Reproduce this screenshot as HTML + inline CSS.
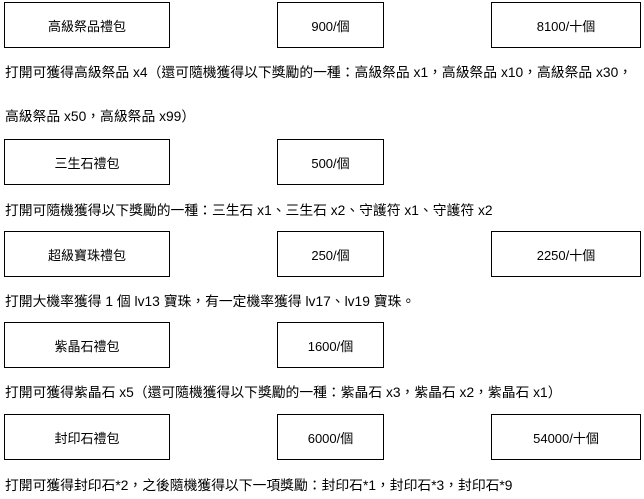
<!DOCTYPE html>
<html><head><meta charset="utf-8"><style>
body{margin:0;width:644px;height:499px;background:#fff;position:relative;font-family:"Liberation Sans","Noto Sans CJK TC",sans-serif;font-size:13px;color:#000;overflow:hidden}
.b{position:absolute;border:1px solid #000;box-sizing:border-box;display:flex;align-items:center;justify-content:center;height:46px}
.c1{left:4px;width:166px}.c2{left:277px;width:107px}.c3{left:491px;width:150px}
.t{position:absolute;left:5px;white-space:nowrap;line-height:16px;font-size:13.8px}
</style></head><body>
<div class="b c1" style="top:2px">高級祭品禮包</div>
<div class="b c2" style="top:2px">900/個</div>
<div class="b c3" style="top:2px">8100/十個</div>
<div class="t" style="top:65px">打開可獲得高級祭品 x4（還可隨機獲得以下獎勵的一種：高級祭品 x1，高級祭品 x10，高級祭品 x30，</div>
<div class="t" style="top:109px">高級祭品 x50，高級祭品 x99）</div>
<div class="b c1" style="top:139px">三生石禮包</div>
<div class="b c2" style="top:139px">500/個</div>
<div class="t" style="top:203px">打開可隨機獲得以下獎勵的一種：三生石 x1、三生石 x2、守護符 x1、守護符 x2</div>
<div class="b c1" style="top:231px">超級寶珠禮包</div>
<div class="b c2" style="top:231px">250/個</div>
<div class="b c3" style="top:231px">2250/十個</div>
<div class="t" style="top:294px">打開大機率獲得 1 個 lv13 寶珠，有一定機率獲得 lv17、lv19 寶珠。</div>
<div class="b c1" style="top:322px">紫晶石禮包</div>
<div class="b c2" style="top:322px">1600/個</div>
<div class="t" style="top:385px">打開可獲得紫晶石 x5（還可隨機獲得以下獎勵的一種：紫晶石 x3，紫晶石 x2，紫晶石 x1）</div>
<div class="b c1" style="top:414px">封印石禮包</div>
<div class="b c2" style="top:414px">6000/個</div>
<div class="b c3" style="top:414px">54000/十個</div>
<div class="t" style="top:478px">打開可獲得封印石*2，之後隨機獲得以下一項獎勵：封印石*1，封印石*3，封印石*9</div>
</body></html>
